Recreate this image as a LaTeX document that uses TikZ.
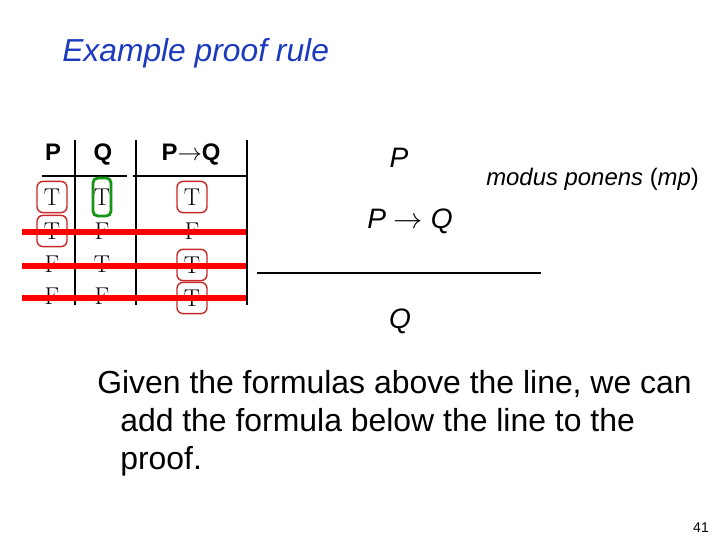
\documentclass[tikz,border=0pt]{standalone}
\usepackage[no-math]{fontspec}
\setmainfont{Liberation Sans}
\usetikzlibrary{positioning}
\definecolor{titleblue}{RGB}{28,58,190}
\definecolor{boxred}{RGB}{200,40,40}
\definecolor{boxgreen}{RGB}{20,150,20}

\begin{document}
\begin{tikzpicture}[
        x=0.025cm, y=-0.025cm,
        % Styles for text
        plain/.style={inner sep=0pt, anchor=base west},
        head/.style={font=\fontsize{17}{19}\selectfont\bfseries, inner sep=0pt, anchor=base},
        cell/.style={font=\fontsize{17}{19}\selectfont, inner sep=0pt},
        formula/.style={font=\fontsize{20}{24}\selectfont\itshape, inner sep=0pt},
        % Styles for boxes and lines
        redbox/.style={cell, draw=boxred, line width=1pt, rounded corners=1.5mm, minimum width=0.75cm, minimum height=0.78cm},
        greenbox/.style={cell, draw=boxgreen, line width=2pt, rounded corners=1.2mm, minimum width=0.45cm, minimum height=0.95cm},
        rule/.style={line width=1pt},
        strike/.style={red, line width=4.2pt}
    ]
        \useasboundingbox[fill=white] (0,0) rectangle (720,540);

        % Title
        \node[plain, text=titleblue, font=\fontsize{22.6}{27}\selectfont\itshape] (title) at (62,61) {Example proof rule};

        % Truth table
        \node[head] (hp) at (53,160) {P};
        \node[head] (hq) at (103,160) {Q};
        \node[head] (hpq) at (191,160) {P$\rightarrow$Q};
        \draw[rule] (75,140) -- (75,305);
        \draw[rule] (136,140) -- (136,305);
        \draw[rule] (247,140) -- (247,305);
        \draw[rule] (42,176) -- (127,176);
        \draw[rule] (133,176) -- (248,176);

        \node[redbox] (p1) at (52,197) {$\mathrm{T}$};
        \node[redbox] (p2) at (52,231) {$\mathrm{T}$};
        \node[cell] (p3) at (52,264) {$\mathrm{F}$};
        \node[cell] (p4) at (52,296) {$\mathrm{F}$};
        \node[greenbox] (q1) at (102,197) {$\mathrm{T}$};
        \node[cell] (q2) at (102,231) {$\mathrm{F}$};
        \node[cell] (q3) at (102,264) {$\mathrm{T}$};
        \node[cell] (q4) at (102,296) {$\mathrm{F}$};
        \node[redbox] (pq1) at (192,197) {$\mathrm{T}$};
        \node[cell] (pq2) at (192,231) {$\mathrm{F}$};
        \node[redbox] (pq3) at (192,265) {$\mathrm{T}$};
        \node[redbox] (pq4) at (192,298) {$\mathrm{T}$};

        % Rows struck out
        \draw[strike] (22,232) -- (246,232);
        \draw[strike] (22,266) -- (246,266);
        \draw[strike] (22,298) -- (246,298);

        % The rule
        \node[formula] (prem1) at (399,158) {P};
        \node[formula] (prem2) at (410,221) {P $\rightarrow$ Q};
        \node[formula] (concl) at (400,321) {Q};
        \draw[line width=1.4pt] (257,273) -- (541,273);
        \node[plain, font=\fontsize{17}{20}\selectfont] (mp) at (486,185) {\itshape modus ponens \upshape(\itshape mp\upshape)};

        % Explanation
        \node[plain, font=\fontsize{22.7}{27}\selectfont] (line1) at (97,393) {Given the formulas above the line, we can};
        \node[plain, font=\fontsize{22.7}{27}\selectfont] (line2) at (120,431) {add the formula below the line to the};
        \node[plain, font=\fontsize{22.7}{27}\selectfont] (line3) at (120,469) {proof.};

        % Slide number
        \node[font=\fontsize{10}{12}\selectfont, inner sep=0pt] (num) at (701,528) {41};
\end{tikzpicture}
\end{document}
